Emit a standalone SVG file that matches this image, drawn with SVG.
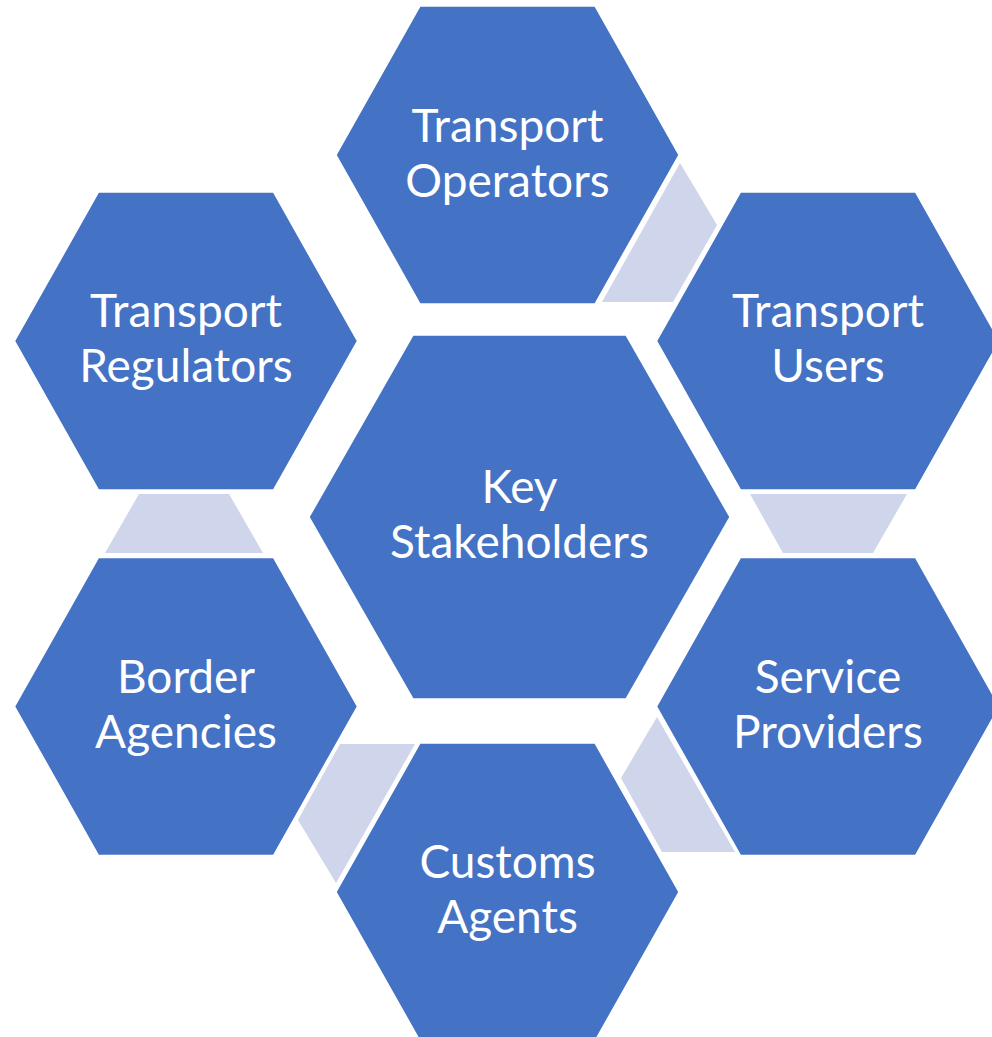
<svg xmlns="http://www.w3.org/2000/svg" xmlns:xlink="http://www.w3.org/1999/xlink" width="992" height="1037" viewBox="0 0 992 1037">
  <style>
    .hex { fill: #4472C4; stroke: #FFFFFF; stroke-width: 1.5; }
    .link { fill: #CFD5EA; stroke: none; }
    .lbl { font-family: Lato, "Open Sans", sans-serif; font-size: 46px; fill: #FFFFFF; text-anchor: middle; }
  </style>
  <defs>
    <path id="hexS" d="M-171.5,0 L-87.5,-149 L87.5,-149 L171.5,0 L87.5,149 L-87.5,149 Z"/>
    <path id="hexL" d="M-210.5,0 L-106.5,-182 L106.5,-182 L210.5,0 L106.5,182 L-106.5,182 Z"/>
  </defs>
  <rect width="992" height="1037" fill="#FFFFFF"/>
  <g id="connectors">
    <polygon class="link" points="680,163 717,225 673,302 602,302"/>
    <polygon class="link" points="750,494 907,494 873,553 783,553"/>
    <polygon class="link" points="657,717 735,852 662,852 621,778"/>
    <polygon class="link" points="340,744 415,744 336,883 298,820"/>
    <polygon class="link" points="139,494 229,494 263,553 105,553"/>
  </g>
  <g id="transport-operators">
    <use xlink:href="#hexS" href="#hexS" class="hex" x="507.5" y="155"/>
    <text class="lbl" x="507.5" y="142">Transport</text>
    <text class="lbl" x="507.5" y="197">Operators</text>
  </g>
  <g id="transport-users">
    <use xlink:href="#hexS" href="#hexS" class="hex" x="828" y="341"/>
    <text class="lbl" x="828" y="327">Transport</text>
    <text class="lbl" x="828" y="382">Users</text>
  </g>
  <g id="transport-regulators">
    <use xlink:href="#hexS" href="#hexS" class="hex" x="186" y="341"/>
    <text class="lbl" x="186" y="327">Transport</text>
    <text class="lbl" x="186" y="382">Regulators</text>
  </g>
  <g id="key-stakeholders">
    <use xlink:href="#hexL" href="#hexL" class="hex" x="519.5" y="517"/>
    <text class="lbl" x="519.5" y="503">Key</text>
    <text class="lbl" x="519.5" y="558">Stakeholders</text>
  </g>
  <g id="border-agencies">
    <use xlink:href="#hexS" href="#hexS" class="hex" x="186" y="706.5"/>
    <text class="lbl" x="186" y="693">Border</text>
    <text class="lbl" x="186" y="748">Agencies</text>
  </g>
  <g id="service-providers">
    <use xlink:href="#hexS" href="#hexS" class="hex" x="828" y="706.5"/>
    <text class="lbl" x="828" y="693">Service</text>
    <text class="lbl" x="828" y="748">Providers</text>
  </g>
  <g id="customs-agents">
    <use xlink:href="#hexS" href="#hexS" class="hex" x="507.5" y="892"/>
    <text class="lbl" x="507.5" y="878">Customs</text>
    <text class="lbl" x="507.5" y="933">Agents</text>
  </g>
</svg>
